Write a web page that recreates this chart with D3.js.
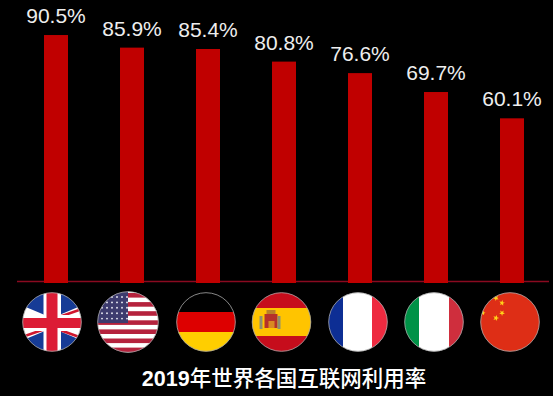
<!DOCTYPE html>
<html><head><meta charset="utf-8">
<script src="https://cdnjs.cloudflare.com/ajax/libs/d3/7.8.5/d3.min.js"></script>
<style>html,body{margin:0;padding:0;background:#000;overflow:hidden}svg{display:block}</style>
</head><body><svg id="c" width="553" height="396"></svg>
<script>
const categories=["英国","美国","德国","西班牙","法国","意大利","中国"];
const values=[90.5,85.9,85.4,80.8,76.6,69.7,60.1];
const flagCodes=["uk","us","de","es","fr","it","cn"];
const flagOffsets=[-4,-4,-2,-2.5,-2,-2,-2];
const titleNum="2019";
const titleText="年世界各国互联网利用率";

const svg=d3.select("#c");
const defs=svg.append("defs");
const f=defs.append("filter").attr("id","soft").attr("x","-10%").attr("y","-10%").attr("width","120%").attr("height","120%");
f.append("feGaussianBlur").attr("stdDeviation",0.6);
const x=d3.scaleBand().domain(categories).range([18,550]).paddingInner(52/76).paddingOuter(26/76);
const y=d3.scaleLinear().domain([0,100]).range([283,9]);
const font="'Liberation Sans','Noto Sans CJK SC',sans-serif";

svg.append("line").attr("x1",17).attr("x2",549).attr("y1",281.5).attr("y2",281.5).attr("stroke","#8a0a20").attr("stroke-width",1.4);
svg.selectAll("rect.bar").data(values).join("rect").attr("class","bar")
 .attr("x",(d,i)=>x(categories[i])).attr("width",x.bandwidth())
 .attr("y",d=>y(d)).attr("height",d=>y(0)-y(d)).attr("fill","#c00000");
svg.selectAll("text.val").data(values).join("text").attr("class","val")
 .attr("x",(d,i)=>x(categories[i])+x.bandwidth()/2).attr("y",d=>y(d)-12)
 .attr("text-anchor","middle").attr("font-family",font).attr("font-size",21).attr("fill","#eeeeee")
 .text(d=>d3.format(".1f")(d)+"%");

const R=29.5;
function star(g,cx,cy,r,rot){
 const pts=d3.range(10).map(k=>{const a=rot+k*Math.PI/5-Math.PI/2,q=k%2?r*0.42:r;return [cx+q*Math.cos(a),cy+q*Math.sin(a)]});
 g.append("polygon").attr("points",pts.join(" ")).attr("fill","#ffd21a");
}
function r(g,xx,yy,w,h,c){g.append("rect").attr("x",xx).attr("y",yy).attr("width",w).attr("height",h).attr("fill",c)}
const drawers={
 uk(g){r(g,-31,-31,62,62,"#173a96");
  [1,-1].forEach(s=>g.append("line").attr("x1",-31).attr("y1",1-13*s).attr("x2",31).attr("y2",1+13*s).attr("stroke","#fff").attr("stroke-width",9));
  [[-30,15,-7,7],[7,-5,30,-13],[8,8,30,16]].forEach(a=>g.append("line").attr("x1",a[0]).attr("y1",a[1]).attr("x2",a[2]).attr("y2",a[3]).attr("stroke","#d0182f").attr("stroke-width",2.6));
  r(g,-8.5,-31,17.5,62,"#fff");r(g,-31,-7,62,16,"#fff");
  r(g,-5.5,-31,11,62,"#dc1a36");r(g,-31,-4,62,10,"#dc1a36");},
 us(g){r(g,-31,-31,62,62,"#fff");
  d3.range(7).forEach(k=>r(g,-31,-29+k*9.1,62,4.6,"#b5243c"));
  r(g,-31,-31,31,32,"#3c3b6e");
  d3.range(5).forEach(a=>d3.range(6).forEach(b=>g.append("circle").attr("cx",-26+b*5).attr("cy",-25+a*5.4).attr("r",0.95).attr("fill","#e8e8f2")));},
 de(g){r(g,-31,-31,62,21,"#000");r(g,-31,-10,62,20,"#dd0000");r(g,-31,10,62,21,"#ffce00");},
 es(g){r(g,-31,-31,62,62,"#c60b1e");r(g,-31,-14,62,28,"#ffc400");
  r(g,-17,-8,13,14,"#b5322a");r(g,-13,-1,6,7,"#d98a20");r(g,-22,-6,3,13,"#8f8f70");r(g,-4,-6,3,13,"#8f8f70");r(g,-15,-12,9,4,"#b8802a");},
 fr(g){r(g,-31,-31,62,62,"#fff");r(g,-31,-31,16,62,"#0f2f94");r(g,14,-31,17,62,"#ee2b40");},
 it(g){r(g,-31,-31,62,62,"#fff");r(g,-31,-31,16,62,"#009246");r(g,15,-31,16,62,"#cf2f3d");},
 cn(g){r(g,-31,-31,62,62,"#de2d12");
  star(g,-14,-4,3.2,0.3);star(g,-8,-9,3,0.6);star(g,-8,-19,3,0.2);star(g,-14,-24,3,0.8);star(g,-27,-9,2.6,0.2);}
};
const cy=322;
const flags=svg.selectAll("g.flag").data(flagCodes).join("g").attr("class","flag")
 .attr("transform",(d,i)=>`translate(${x(categories[i])+x.bandwidth()/2+flagOffsets[i]},${cy})`);
flags.each(function(d,i){
 const id="clip"+i;
 defs.append("clipPath").attr("id",id).append("circle").attr("r",R+(d==="us"?1:0));
 const g=d3.select(this);
 const inner=g.append("g").attr("clip-path",`url(#${id})`).append("g").attr("filter","url(#soft)");
 drawers[d](inner);
 g.append("circle").attr("r",R+(d==="us"?1:0)-0.2).attr("fill","none").attr("stroke","#a8a8a8").attr("stroke-opacity",0.8).attr("stroke-width",1);
});
const t=svg.append("text").attr("x",284).attr("y",386).attr("text-anchor","middle").attr("font-family",font)
 .attr("font-size",21.5).attr("fill","#ffffff");
t.append("tspan").attr("font-weight",700).text(titleNum);
t.append("tspan").attr("font-weight",500).text(titleText);
</script></body></html>
